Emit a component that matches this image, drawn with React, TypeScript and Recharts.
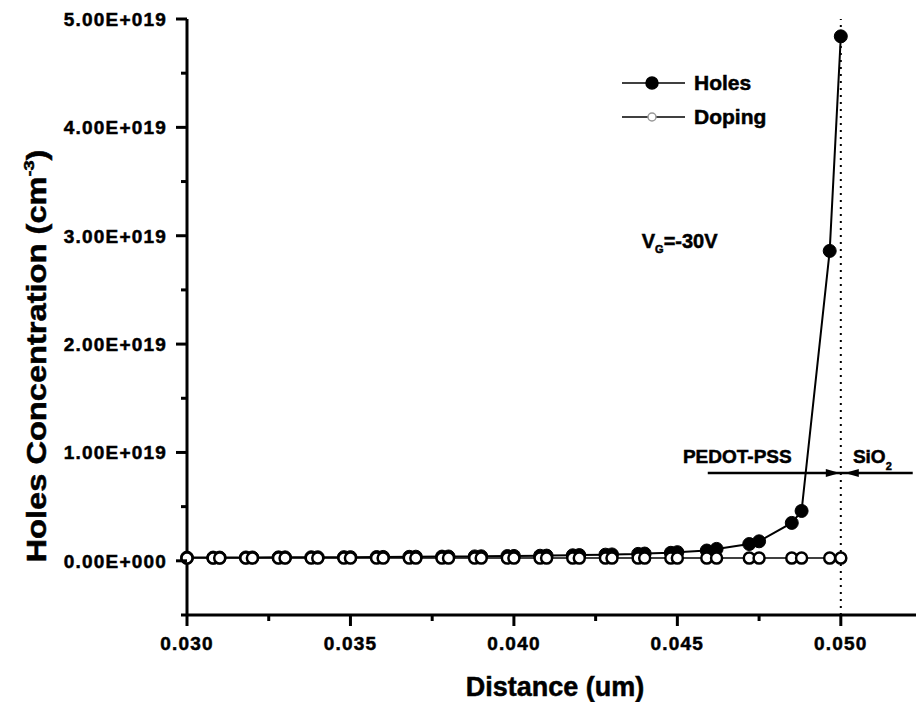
import {
  LineChart,
  Line,
  XAxis,
  YAxis,
  Legend,
  ReferenceLine,
  ReferenceDot,
} from "recharts";

// distance (um), mesh points come in close pairs
const distance = [
  0.03, 0.0308, 0.031, 0.0318, 0.032, 0.0328, 0.033, 0.0338, 0.034, 0.0348,
  0.035, 0.0358, 0.036, 0.0368, 0.037, 0.0378, 0.038, 0.0388, 0.039, 0.0398,
  0.04, 0.0408, 0.041, 0.0418, 0.042, 0.0428, 0.043, 0.0438, 0.044, 0.0448,
  0.045, 0.0459, 0.0462, 0.0472, 0.0475, 0.0485, 0.0488, 0.04966, 0.05,
];

// holes concentration (cm^-3)
const holes = [
  3.0e17, 3.0e17, 3.0e17, 3.1e17, 3.1e17, 3.2e17, 3.2e17, 3.3e17, 3.3e17,
  3.4e17, 3.4e17, 3.5e17, 3.6e17, 3.7e17, 3.8e17, 3.9e17, 4.0e17, 4.1e17,
  4.2e17, 4.4e17, 4.5e17, 4.7e17, 4.8e17, 5.1e17, 5.3e17, 5.7e17, 5.9e17,
  6.4e17, 6.7e17, 7.4e17, 8.0e17, 9.5e17, 1.1e18, 1.55e18, 1.8e18, 3.5e18,
  4.6e18, 2.86e19, 4.84e19,
];

// doping (cm^-3)
const doping = [
  2.5e17, 2.5e17, 2.5e17, 2.5e17, 2.5e17, 2.5e17, 2.5e17, 2.5e17, 2.5e17,
  2.5e17, 2.5e17, 2.5e17, 2.5e17, 2.5e17, 2.5e17, 2.5e17, 2.5e17, 2.5e17,
  2.5e17, 2.5e17, 2.5e17, 2.5e17, 2.5e17, 2.5e17, 2.5e17, 2.5e17, 2.5e17,
  2.5e17, 2.5e17, 2.5e17, 2.5e17, 2.5e17, 2.5e17, 2.5e17, 2.5e17, 2.5e17,
  2.5e17, 2.5e17, 2.5e17,
];

const xMajor = [0.03, 0.035, 0.04, 0.045, 0.05];
const xMajorLabels = ["0.030", "0.035", "0.040", "0.045", "0.050"];
const xMinor = [0.0325, 0.0375, 0.0425, 0.0475];

const yMajor = [0, 1e19, 2e19, 3e19, 4e19, 5e19];
const yMajorLabels = [
  "0.00E+000",
  "1.00E+019",
  "2.00E+019",
  "3.00E+019",
  "4.00E+019",
  "5.00E+019",
];
const yMinor = [-0.5e19, 0.5e19, 1.5e19, 2.5e19, 3.5e19, 4.5e19];

const data = distance.map((d, i) => ({
  distance: d,
  holes: holes[i],
  doping: doping[i],
}));

const FONT = "'Liberation Sans', Arial, sans-serif";

const textStyle = {
  fontFamily: FONT,
  fontWeight: "bold" as const,
  fill: "#000",
  stroke: "#000",
  strokeWidth: 0.5,
};

const XTick = (props: any) => {
  const { x, y, payload } = props;
  const idx = xMajor.findIndex((m) => Math.abs(m - payload.value) < 1e-7);
  const major = idx >= 0;
  return (
    <g>
      <line x1={x} x2={x} y1={y} y2={y + (major ? 11 : 6)} stroke="#000" strokeWidth={3} />
      {major && (
        <text x={x} y={y + 35} textAnchor="middle" fontSize={19} letterSpacing={1.2} {...textStyle}>
          {xMajorLabels[idx]}
        </text>
      )}
    </g>
  );
};

const YTick = (props: any) => {
  const { x, y, payload } = props;
  const idx = yMajor.findIndex((m) => Math.abs(m - payload.value) < 1e15);
  const major = idx >= 0;
  return (
    <g>
      <line x1={x - (major ? 11 : 6)} x2={x} y1={y} y2={y} stroke="#000" strokeWidth={3} />
      {major && (
        <text x={x - 20} y={y + 7} textAnchor="end" fontSize={19} letterSpacing={1.2} {...textStyle}>
          {yMajorLabels[idx]}
        </text>
      )}
    </g>
  );
};

const renderLegend = () => (
  <div style={{ fontFamily: FONT, fontWeight: "bold", fontSize: 21 }}>
    {[
      { name: "Holes", fill: "#000", r: 6, stroke: "#000" },
      { name: "Doping", fill: "#fff", r: 4, stroke: "#999" },
    ].map((s) => (
      <div key={s.name} style={{ display: "flex", alignItems: "center", height: 34 }}>
        <svg width={72} height={20}>
          <line x1={0} x2={63} y1={10} y2={10} stroke="#000" strokeWidth={1.5} />
          <circle cx={30} cy={10} r={s.r} fill={s.fill} stroke={s.stroke} strokeWidth={1.5} />
        </svg>
        <span style={{ WebkitTextStroke: "0.5px #000" }}>{s.name}</span>
      </div>
    ))}
  </div>
);

const ArrowHeads = (props: any) => {
  const { cx, cy } = props;
  return (
    <g fill="#000">
      <polygon points={`${cx - 1},${cy} ${cx - 15},${cy - 4} ${cx - 15},${cy + 4}`} />
      <polygon points={`${cx + 4},${cy} ${cx + 18},${cy - 4} ${cx + 18},${cy + 4}`} />
    </g>
  );
};

const VgLabel = (props: any) => (
  <text x={props.cx} y={props.cy} fontSize={20} {...textStyle}>
    V
    <tspan fontSize={11} dy={5}>G</tspan>
    <tspan dy={-5}>=-30V</tspan>
  </text>
);

const PedotLabel = (props: any) => (
  <text x={props.cx} y={props.cy} fontSize={19} {...textStyle}>
    PEDOT-PSS
  </text>
);

const SioLabel = (props: any) => (
  <text x={props.cx} y={props.cy} fontSize={19} {...textStyle}>
    SiO
    <tspan fontSize={11} dy={7}>2</tspan>
  </text>
);

const YTitle = () => (
  <text
    x={46}
    y={356}
    transform="rotate(-90 46 356)"
    textAnchor="middle"
    fontSize={27}
    textLength={413}
    lengthAdjust="spacingAndGlyphs"
    {...textStyle}
  >
    Holes Concentration (cm
    <tspan fontSize={15} dy={-12}>-3</tspan>
    <tspan dy={12}>)</tspan>
  </text>
);

const XTitle = () => (
  <text x={555} y={696} textAnchor="middle" fontSize={27} {...textStyle}>
    Distance (um)
  </text>
);

export default function App() {
  return (
    <div style={{ position: "absolute", left: 0, top: 0, width: 916, height: 702, background: "#fff" }}>
      <LineChart
        width={916}
        height={702}
        data={data}
        margin={{ top: 19, right: 0, left: 0, bottom: 0 }}
      >
        <XAxis
          type="number"
          dataKey="distance"
          domain={[0.03, 0.0523]}
          ticks={[...xMajor, ...xMinor]}
          tickLine={false}
          tickSize={0}
          tickMargin={0}
          tick={<XTick />}
          axisLine={{ stroke: "#000", strokeWidth: 3 }}
          height={87}
          interval={0}
          label={{ content: () => <XTitle /> }}
        />
        <YAxis
          type="number"
          domain={[-0.5e19, 5e19]}
          ticks={[...yMajor, ...yMinor]}
          tickLine={false}
          tickSize={0}
          tickMargin={0}
          tick={<YTick />}
          axisLine={{ stroke: "#000", strokeWidth: 3 }}
          width={187}
          interval={0}
          label={{ content: () => <YTitle /> }}
        />
        <ReferenceLine
          x={0.05}
          stroke="#000"
          strokeWidth={2}
          strokeDasharray="2 5"
        />
        <Line
          type="linear"
          dataKey="holes"
          stroke="#000"
          strokeWidth={2}
          dot={{ r: 6.5, fill: "#000", stroke: "#000", strokeWidth: 1 }}
          activeDot={false}
          isAnimationActive={false}
        />
        <Line
          type="linear"
          dataKey="doping"
          stroke="#000"
          strokeWidth={1.5}
          dot={{ r: 5.5, fill: "#fff", stroke: "#000", strokeWidth: 2.5 }}
          activeDot={false}
          isAnimationActive={false}
        />
        <ReferenceLine
          segment={[
            { x: 0.04593, y: 0.81e19 },
            { x: 0.0522, y: 0.81e19 },
          ]}
          stroke="#000"
          strokeWidth={2.5}
        />
        <ReferenceDot x={0.05} y={0.81e19} shape={<ArrowHeads />} />
        <ReferenceDot x={0.04391} y={2.89e19} shape={<VgLabel />} />
        <ReferenceDot x={0.04517} y={0.9e19} shape={<PedotLabel />} />
        <ReferenceDot x={0.05037} y={0.9e19} shape={<SioLabel />} />
        <Legend
          layout="vertical"
          align="center"
          verticalAlign="middle"
          wrapperStyle={{ left: 622, top: 66, width: 200 }}
          content={renderLegend}
        />
      </LineChart>
    </div>
  );
}
